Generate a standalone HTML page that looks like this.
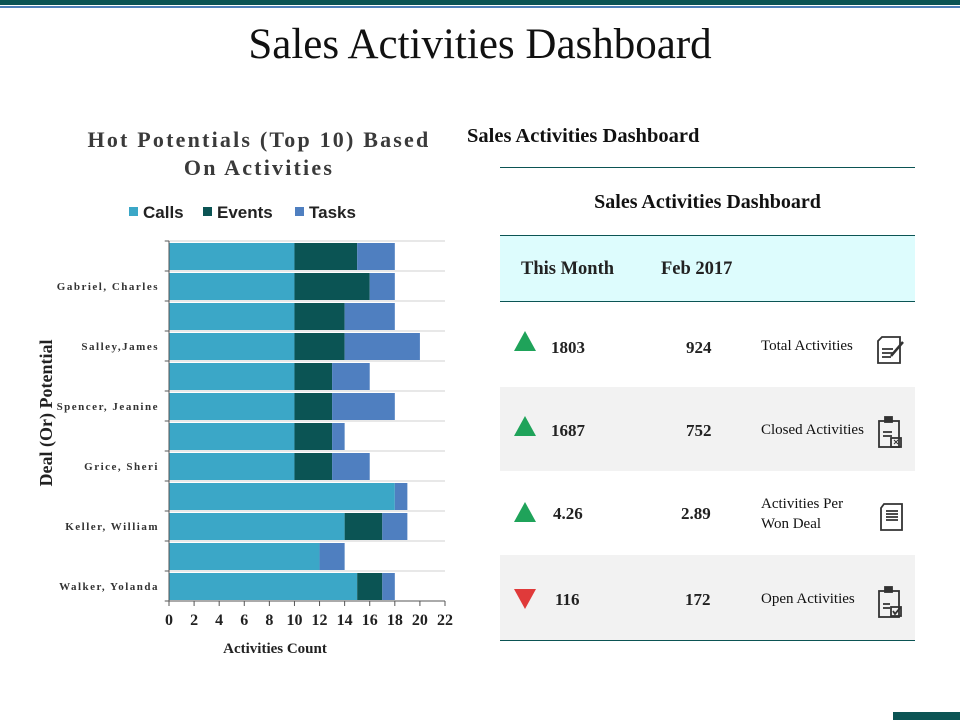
<!DOCTYPE html>
<html><head><meta charset="utf-8"><style>
body{margin:0;width:960px;height:720px;background:#fff;position:relative;overflow:hidden;font-family:"Liberation Serif",serif}
.abs{position:absolute}
.row{position:absolute;left:500px;width:415px}
.num{position:absolute;font-weight:bold;font-size:17px;color:#222}
.lbl{position:absolute;left:761px;font-size:15px;color:#111;line-height:20px}
</style></head><body>
<div class="abs" style="left:0;top:0;width:960px;height:5px;background:#0b5454"></div>
<div class="abs" style="left:0;top:6px;width:960px;height:2px;background:#4f7fb8"></div>
<div class="abs" style="left:0;width:960px;top:20px;text-align:center;font-size:43px;color:#111">Sales Activities Dashboard</div>

<svg class="abs" style="left:0;top:0" width="480" height="720" id="chart">
<text x="259" y="147" text-anchor="middle" font-family="Liberation Serif" font-weight="bold" font-size="22" fill="#3a3a3a" letter-spacing="2.2">Hot Potentials (Top 10) Based</text>
<text x="259" y="175" text-anchor="middle" font-family="Liberation Serif" font-weight="bold" font-size="22" fill="#3a3a3a" letter-spacing="2.2">On Activities</text>
<g font-family="Liberation Sans" font-weight="bold" font-size="17" fill="#222">
<rect x="129" y="207" width="9" height="9" fill="#3ba7c7"/><text x="143" y="218">Calls</text>
<rect x="203" y="207" width="9" height="9" fill="#0b5454"/><text x="217" y="218">Events</text>
<rect x="295" y="207" width="9" height="9" fill="#4f7fc0"/><text x="309" y="218">Tasks</text>
</g>
<text transform="translate(52,413) rotate(-90)" text-anchor="middle" font-family="Liberation Serif" font-weight="bold" font-size="18" fill="#222">Deal (Or) Potential</text>
<text x="275" y="653" text-anchor="middle" font-family="Liberation Serif" font-weight="bold" font-size="15" fill="#222">Activities Count</text>
</svg>
<script>
const labels=["","Gabriel, Charles","","Salley,James","","Spencer, Jeanine","","Grice, Sheri","","Keller, William","","Walker, Yolanda"];
const calls=[10,10,10,10,10,10,10,10,18,14,12,15];
const events=[5,6,4,4,3,3,3,3,0,3,0,2];
const tasks=[3,2,4,6,3,5,1,3,1,2,2,1];
const xTicks=[0,2,4,6,8,10,12,14,16,18,20,22];
const svg=document.getElementById('chart');const NS='http://www.w3.org/2000/svg';
const x0=169,x1=445,xmax=22,yTop=241,rowH=30;
const X=v=>x0+(x1-x0)*v/xmax;
function mk(t,a){const e=document.createElementNS(NS,t);for(const k in a)e.setAttribute(k,a[k]);svg.appendChild(e);return e;}
for(let i=0;i<=labels.length;i++){const y=yTop+i*rowH;
 const g=mk('line',{x1:x0-5,x2:x1,y1:y,y2:y,stroke:'#d0d0d0','stroke-width':1});
 
 
 mk('line',{x1:x0-4,x2:x0,y1:y,y2:y,stroke:'#555'});}
labels.forEach((l,i)=>{const y=yTop+i*rowH+2,h=rowH-3;
 const segs=[[calls[i],'#3ba7c7','calls'],[events[i],'#0b5454','events'],[tasks[i],'#4f7fc0','tasks']];let acc=0;
 segs.forEach(s=>{if(s[0]>0){const r=mk('rect',{x:X(acc),y:y,width:X(acc+s[0])-X(acc),height:h,fill:s[1]});
  
  }acc+=s[0];});
 if(l){const t=mk('text',{x:159,y:yTop+i*rowH+rowH/2+4,'text-anchor':'end','font-family':'Liberation Serif','font-weight':'bold','font-size':11,'letter-spacing':1.5,fill:'#333'});t.textContent=l;
  
  }
});
mk('line',{x1:x0,x2:x0,y1:yTop,y2:yTop+rowH*12,stroke:'#555'});
mk('line',{x1:x0,x2:x1,y1:yTop+rowH*12,y2:yTop+rowH*12,stroke:'#555'});
xTicks.forEach(v=>{mk('line',{x1:X(v),x2:X(v),y1:601,y2:606,stroke:'#555'});
 const t=mk('text',{x:X(v),y:625,'text-anchor':'middle','font-family':'Liberation Serif','font-weight':'bold','font-size':16,fill:'#222'});t.textContent=v;
 
 });
</script>

<div class="abs" style="left:467px;top:125px;font-size:20.5px;font-weight:bold;color:#111;white-space:nowrap">Sales Activities Dashboard</div>
<div class="abs" style="left:500px;top:167px;width:415px;height:1px;background:#0b5454"></div>
<div class="abs" style="left:500px;width:415px;top:191px;text-align:center;font-size:20px;font-weight:bold;color:#111">Sales Activities Dashboard</div>
<div class="row" style="top:235px;height:67px;background:#ddfcfd;border-top:1px solid #0b5454;border-bottom:1px solid #0b5454;box-sizing:border-box">
 <div class="num" style="left:21px;top:23px;font-size:18.5px">This Month</div>
 <div class="num" style="left:161px;top:23px;font-size:18.5px">Feb 2017</div>
</div>
<div class="row" style="top:302px;height:85px;background:#fff"></div>
<div class="row" style="top:387px;height:84px;background:#f2f2f2"></div>
<div class="row" style="top:471px;height:84px;background:#fff"></div>
<div class="row" style="top:555px;height:85px;background:#f2f2f2;border-bottom:1px solid #0b5454"></div>

<svg class="abs" style="left:0;top:0" width="960" height="720">
 <polygon points="514,351 525,331 536,351" fill="#1fa35a"/>
 <polygon points="514,436 525,416 536,436" fill="#1fa35a"/>
 <polygon points="514,522 525,502 536,522" fill="#1fa35a"/>
 <polygon points="514,589 525,609 536,589" fill="#e03a3a"/>
 <g fill="none" stroke="#333" stroke-width="1.8">
  <path d="M882,337 h18 v26 h-22 v-22z"/><path d="M882,349h11M882,353h11M882,357h9"/><path d="M891,356l12,-14" stroke-width="2.5"/>
  <rect x="879" y="421" width="20" height="26"/><rect x="885" y="417" width="7" height="5" fill="#333"/><path d="M883,432h9M883,436h9"/><rect x="891" y="438" width="10" height="9"/><path d="M894,440l4,4M898,440l-4,4" stroke-width="1"/>
  <path d="M884,504 h18 v26 h-21 v-22z"/><path d="M886,511h12M886,514h12M886,517h12M886,520h12"/>
  <rect x="879" y="591" width="20" height="26"/><rect x="885" y="587" width="7" height="5" fill="#333"/><path d="M883,604h7M883,608h7"/><rect x="891" y="607" width="10" height="9"/><path d="M893,611l2,3 5,-6"/>
 </g>
</svg>
<div class="num" style="left:551px;top:338px">1803</div>
<div class="num" style="left:686px;top:338px">924</div>
<div class="lbl" style="top:336px">Total Activities</div>
<div class="num" style="left:551px;top:421px">1687</div>
<div class="num" style="left:686px;top:421px">752</div>
<div class="lbl" style="top:420px">Closed Activities</div>
<div class="num" style="left:553px;top:504px">4.26</div>
<div class="num" style="left:681px;top:504px">2.89</div>
<div class="lbl" style="top:494px">Activities Per<br>Won Deal</div>
<div class="num" style="left:555px;top:590px">116</div>
<div class="num" style="left:685px;top:590px">172</div>
<div class="lbl" style="top:589px">Open Activities</div>
<div class="abs" style="left:893px;top:712px;width:67px;height:8px;background:#0b5454"></div>
</body></html>
